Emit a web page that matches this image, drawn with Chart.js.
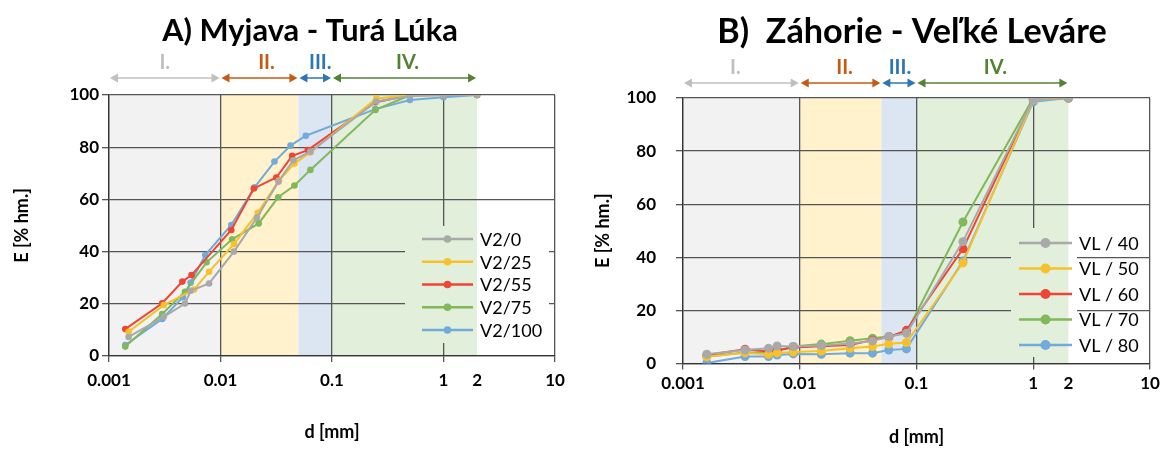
<!DOCTYPE html>
<html>
<head>
<meta charset="utf-8">
<script src="https://cdn.jsdelivr.net/npm/chart.js@4.4.1/dist/chart.umd.min.js"></script>
<style>
  body { margin: 0; background: #fff; width: 1166px; height: 449px; overflow: hidden; }
  .box { position: absolute; top: 0; width: 583px; height: 449px; }
</style>
</head>
<body>
<div class="box" style="left:0"><canvas id="chartA"></canvas></div>
<div class="box" style="left:583px"><canvas id="chartB"></canvas></div>
<script>
// axis ticks and grain-size zones
const xTicks = [0.001, 0.01, 0.1, 1, 2, 10];
const zoneNames = ['I.', 'II.', 'III.', 'IV.'];
const zoneLimits = [0.001, 0.01, 0.05, 0.1, 2];

// A) Myjava - Turá Lúka
const namesA = ['V2/0', 'V2/25', 'V2/55', 'V2/75', 'V2/100'];
const dA_0   = [0.0015, 0.0031, 0.0048, 0.0054, 0.0079, 0.0132, 0.0212, 0.0331, 0.045, 0.064, 0.25, 0.5, 1, 2];
const eA_0   = [7.3, 15, 20.1, 25, 27.8, 40, 53, 66.8, 75, 78.3, 97.5, 99.6, 100, 100];
const dA_25  = [0.0015, 0.0031, 0.0058, 0.0079, 0.0132, 0.0216, 0.0334, 0.0461, 0.064, 0.25, 0.5, 1, 2];
const eA_25  = [9.3, 19.5, 25.5, 32.3, 42.9, 54.9, 67.2, 73.8, 78, 98.7, 99.9, 100, 100];
const dA_55  = [0.0014, 0.0030, 0.00455, 0.0055, 0.0125, 0.0199, 0.0317, 0.0439, 0.0607, 0.245, 0.5, 1, 2];
const eA_55  = [10.3, 20.2, 28.5, 31, 48.3, 64.2, 68.4, 76.7, 78.9, 97.2, 99.9, 100, 100];
const dA_75  = [0.0014, 0.0030, 0.0048, 0.0075, 0.0127, 0.022, 0.0329, 0.0461, 0.064, 0.245, 0.5, 1, 2];
const eA_75  = [3.6, 16.1, 24.6, 35.9, 44.7, 50.8, 60.8, 65.3, 71.3, 94.3, 99.9, 100, 100];
const dA_100 = [0.0014, 0.0030, 0.0046, 0.0054, 0.0073, 0.0125, 0.0202, 0.0305, 0.0425, 0.0582, 0.245, 0.5, 1, 2];
const eA_100 = [4.2, 14.2, 22.5, 28.1, 38.7, 50.2, 64.6, 74.5, 80.6, 84.4, 94.6, 98.1, 99.1, 100];

// B) Záhorie - Veľké Leváre
const namesB = ['VL / 40', 'VL / 50', 'VL / 60', 'VL / 70', 'VL / 80'];
const dB    = [0.0016, 0.0034, 0.0054, 0.0064, 0.0088, 0.0153, 0.027, 0.042, 0.058, 0.082, 0.25, 1, 2];
const eB_40 = [3.5, 5.1, 5.7, 6.6, 6.4, 6.8, 7.5, 8.5, 10.2, 11.4, 45.9, 99.5, 100];
const eB_50 = [2.5, 4.0, 3.5, 4.0, 4.3, 4.7, 5.7, 6.4, 7.4, 7.9, 37.9, 99.3, 100];
const eB_60 = [3.2, 5.4, 4.5, 5.0, 6.0, 6.5, 7.0, 8.8, 10.0, 12.5, 43.2, 99.5, 100];
const eB_70 = [2.6, 4.1, 4.1, 4.8, 6.4, 7.3, 8.6, 9.5, 10.2, 11.7, 53.3, 100, 100];
const eB_80 = [0.2, 2.6, 2.6, 3.2, 3.6, 3.5, 3.9, 3.9, 5.1, 5.5, 38.6, 98.6, 100];

const seriesColors = ['#a9a9a9', '#f7c12b', '#ee4537', '#80b85a', '#72aadc'];
const zoneFill = ['#f2f2f2', '#fff2cc', '#dce6f2', '#e2efda'];
const zoneInk = ['#bfbfbf', '#c55a11', '#2e75b6', '#548235'];
const FONT = 'Lato';

// title font size that makes the text as wide as in the picture
function fitSize(text, width) {
  const c = document.createElement('canvas').getContext('2d');
  c.font = 'bold 26px ' + FONT;
  return 26 * width / c.measureText(text).width;
}

function makeSets(names, xs, ys, radius) {
  return names.map((n, i) => ({
    label: n,
    data: xs[i].map((x, j) => ({ x: x, y: ys[i][j] })),
    borderColor: seriesColors[i],
    backgroundColor: seriesColors[i],
    borderWidth: 2,
    pointRadius: radius,
    pointBorderWidth: 0,
    tension: 0
  }));
}

function fillZones(chart) {
  const ctx = chart.ctx, a = chart.chartArea, xs = chart.scales.x;
  for (let i = 0; i < zoneFill.length; i++) {
    const x0 = xs.getPixelForValue(zoneLimits[i]);
    const x1 = xs.getPixelForValue(zoneLimits[i + 1]);
    ctx.fillStyle = zoneFill[i];
    ctx.fillRect(x0, a.top, x1 - x0, a.bottom - a.top);
  }
}

function arrow(ctx, x0, x1, y, color) {
  const h = 8, w = 4.5;
  ctx.strokeStyle = color; ctx.fillStyle = color; ctx.lineWidth = 1.5;
  ctx.beginPath(); ctx.moveTo(x0 + h - 1, y); ctx.lineTo(x1 - h + 1, y); ctx.stroke();
  ctx.beginPath(); ctx.moveTo(x0, y); ctx.lineTo(x0 + h, y - w); ctx.lineTo(x0 + h, y + w); ctx.closePath(); ctx.fill();
  ctx.beginPath(); ctx.moveTo(x1, y); ctx.lineTo(x1 - h, y - w); ctx.lineTo(x1 - h, y + w); ctx.closePath(); ctx.fill();
}

const zonesPlugin = {
  id: 'zones',
  beforeDraw(chart) {
    chart.ctx.save();
    fillZones(chart);
    chart.ctx.restore();
  }
};

const decorPlugin = {
  id: 'decor',
  afterDraw(chart, args, o) {
    const ctx = chart.ctx, a = chart.chartArea, xs = chart.scales.x;
    ctx.save();
    ctx.font = 'bold ' + fitSize(o.title, o.titleWidth).toFixed(1) + 'px ' + FONT;
    ctx.fillStyle = '#000';
    ctx.textAlign = 'center'; ctx.textBaseline = 'middle';
    ctx.fillText(o.title, o.titleX, o.titleY);

    // zone arrows and names
    const ay = a.top - o.arrowGap;
    ctx.font = 'bold 20px ' + FONT;
    for (let i = 0; i < zoneNames.length; i++) {
      const x0 = xs.getPixelForValue(zoneLimits[i]) + 1;
      const x1 = xs.getPixelForValue(zoneLimits[i + 1]) - 1;
      arrow(ctx, x0, x1, ay, zoneInk[i]);
      ctx.fillStyle = zoneInk[i];
      ctx.fillText(zoneNames[i], (x0 + x1) / 2 + (o.labelShift[i] || 0), ay - 15);
    }

    // legend box hides the gridlines behind it
    const m = o.mask;
    ctx.save();
    ctx.beginPath(); ctx.rect(m[0], m[1], m[2] - m[0], m[3] - m[1]); ctx.clip();
    ctx.fillStyle = '#fff'; ctx.fillRect(m[0], m[1], m[2] - m[0], m[3] - m[1]);
    fillZones(chart);
    ctx.restore();

    // legend entries
    ctx.font = '18px ' + FONT;
    ctx.textAlign = 'left';
    chart.data.datasets.forEach((ds, i) => {
      const y = o.legendY + i * o.legendStep;
      ctx.strokeStyle = ds.borderColor; ctx.lineWidth = 2.5;
      ctx.beginPath(); ctx.moveTo(o.legendX, y); ctx.lineTo(o.legendX + o.legendLen, y); ctx.stroke();
      ctx.fillStyle = ds.borderColor;
      ctx.beginPath(); ctx.arc(o.legendX + o.legendLen / 2, y, ds.pointRadius + 0.5, 0, Math.PI * 2); ctx.fill();
      ctx.fillStyle = '#000';
      ctx.fillText(ds.label, o.legendX + o.legendLen + 7, y + 1);
    });
    ctx.restore();
  }
};

function makeChart(id, datasets, cfg) {
  const tickFont = { family: FONT, size: 17, weight: 'bold' };
  const gridColor = c => (c.tick && c.tick.value === 2) ? 'rgba(0,0,0,0)' : '#555';
  return new Chart(document.getElementById(id), {
    type: 'line',
    data: { datasets: datasets },
    options: {
      responsive: true,
      maintainAspectRatio: false,
      animation: false,
      layout: { padding: { top: cfg.top, right: cfg.right, left: 0, bottom: 0 } },
      scales: {
        x: {
          type: 'logarithmic',
          min: 0.001, max: 10,
          afterBuildTicks: s => { s.ticks = xTicks.map(v => ({ value: v })); },
          afterFit: s => { s.height = cfg.xHeight; },
          ticks: {
            autoSkip: false, maxRotation: 0, color: '#000', font: tickFont, padding: cfg.xPad,
            callback: v => String(v)
          },
          grid: { color: gridColor, tickColor: gridColor, lineWidth: 1.3, tickLength: 6 },
          border: { color: '#333', width: 1.3 },
          title: { display: true, text: 'd [mm]', color: '#000', font: { family: FONT, size: 18, weight: 'bold' }, padding: { top: 0, bottom: cfg.xTitlePad } }
        },
        y: {
          min: 0, max: 100,
          afterFit: s => { s.width = cfg.yWidth; },
          ticks: { stepSize: 20, color: '#000', font: tickFont, padding: cfg.yPad },
          grid: { color: '#555', tickColor: '#555', lineWidth: 1.3, tickLength: 7 },
          border: { color: '#333', width: 1.3 },
          title: { display: true, text: 'E [% hm.]', color: '#000', font: { family: FONT, size: 18, weight: 'bold' }, padding: { top: cfg.yTitlePad, bottom: 0 } }
        }
      },
      plugins: {
        legend: { display: false },
        tooltip: { enabled: false },
        decor: cfg.decor
      }
    },
    plugins: [zonesPlugin, decorPlugin]
  });
}

makeChart('chartA',
  makeSets(namesA, [dA_0, dA_25, dA_55, dA_75, dA_100], [eA_0, eA_25, eA_55, eA_75, eA_100], 3.3),
  {
    top: 95, right: 28, xHeight: 93, yWidth: 109, xPad: 8, yPad: 3, xTitlePad: 6, yTitlePad: 11,
    decor: {
      title: 'A) Myjava - Turá Lúka', titleX: 310, titleY: 31, titleWidth: 296,
      arrowGap: 17, labelShift: [0, 7, 5, 3],
      mask: [405, 226, 549, 343],
      legendX: 422, legendY: 239, legendStep: 22.75, legendLen: 51
    }
  });

makeChart('chartB',
  makeSets(namesB, [dB, dB, dB, dB, dB], [eB_40, eB_50, eB_60, eB_70, eB_80], 4.5),
  {
    top: 98, right: 16, xHeight: 85.5, yWidth: 100, xPad: 4, yPad: 20, xTitlePad: 1, yTitlePad: 9,
    decor: {
      title: 'B)  Záhorie - Veľké Leváre', titleX: 329, titleY: 32, titleWidth: 389,
      arrowGap: 15, labelShift: [-6, 4, 1, 3],
      mask: [428, 228, 494, 357],
      legendX: 436, legendY: 243, legendStep: 25.5, legendLen: 53
    }
  });
</script>
</body>
</html>
